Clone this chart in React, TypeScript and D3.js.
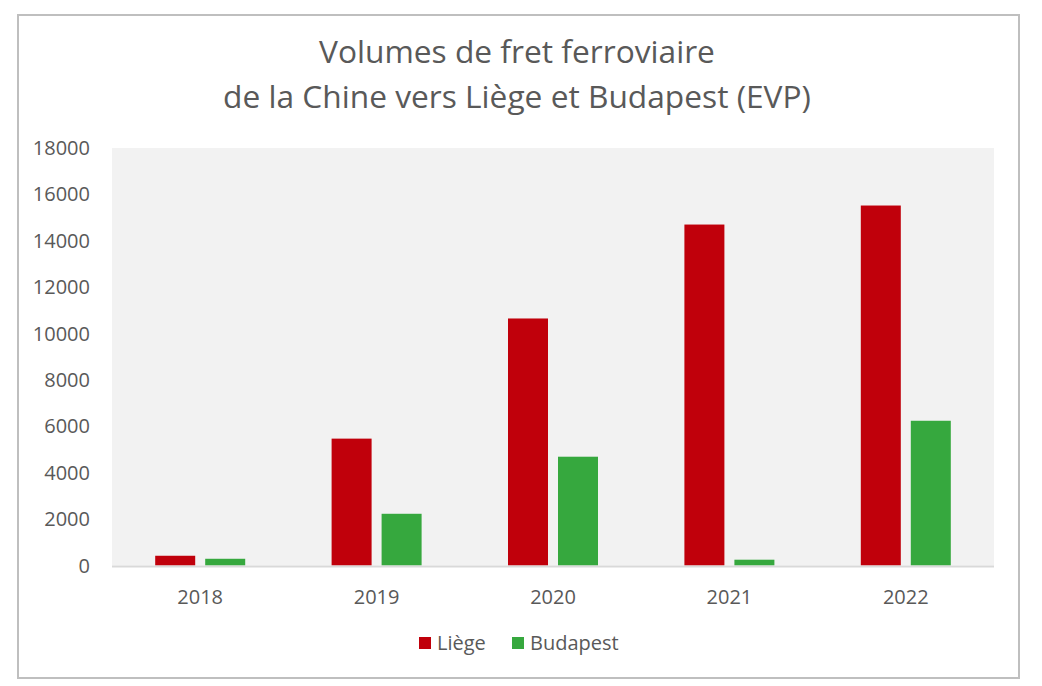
import React from "react";
import * as d3 from "d3";

const years = ["2018", "2019", "2020", "2021", "2022"];
const liege = [420, 5470, 10650, 14700, 15520];
const budapest = [290, 2230, 4690, 250, 6240];
const yTicks = [0, 2000, 4000, 6000, 8000, 10000, 12000, 14000, 16000, 18000];
const seriesNames = ["Liège", "Budapest"];
const seriesColors = ["#c0000b", "#36a83e"];
const titleLines = ["Volumes de fret ferroviaire", "de la Chine vers Liège et Budapest (EVP)"];

export default function App() {
  const W = 1042, H = 686;
  const left = 112, right = 994, top = 148, bottom = 565.5;
  const x = d3.scaleBand().domain(years).range([left, right]).paddingInner(0).paddingOuter(0);
  const y = d3.scaleLinear().domain([0, 18000]).range([bottom, top]);
  const barW = 40, gap = 10;
  const series = [liege, budapest];
  const font = "'Open Sans', sans-serif";
  const textColor = "#595959";
  return (
    <svg width={W} height={H} style={{ position: "absolute", left: 0, top: 0 }} fontFamily={font}>
      <rect x={0} y={0} width={W} height={H} fill="#fff" />
      <rect x={18} y={15} width={1001} height={663} fill="#fff" stroke="#bfbfbf" strokeWidth={2} />
      {titleLines.map((t, i) => (
        <text key={i} x={517} y={63 + i * 45} textAnchor="middle" fontSize={31.7} fill={textColor}>{t}</text>
      ))}
      <rect x={left} y={top} width={right - left} height={bottom - top} fill="#f2f2f2" />
      {yTicks.map((t) => (
        <text key={t} x={90} y={y(t)} dy="0.35em" textAnchor="end" fontSize={20} fill={textColor}>{t}</text>
      ))}
      {years.map((yr, i) => {
        const c = x(yr)! + x.bandwidth() / 2;
        return (
          <g key={yr}>
            {series.map((s, j) => {
              const bx = j === 0 ? c - gap / 2 - barW : c + gap / 2;
              return <rect key={j} x={bx} y={y(s[i])} width={barW} height={bottom - y(s[i])} fill={seriesColors[j]} />;
            })}
            <text x={c} y={597} dy="0.35em" textAnchor="middle" fontSize={20} fill={textColor}>{yr}</text>
          </g>
        );
      })}
      <line x1={left} x2={right} y1={bottom + 1} y2={bottom + 1} stroke="#d9d9d9" strokeWidth={2} />
      {seriesNames.map((n, j) => {
        const lx = j === 0 ? 419 : 512;
        return (
          <g key={n}>
            <rect x={lx} y={637} width={12} height={12} fill={seriesColors[j]} />
            <text x={lx + 18} y={643} dy="0.35em" fontSize={20} fill={textColor}>{n}</text>
          </g>
        );
      })}
    </svg>
  );
}
